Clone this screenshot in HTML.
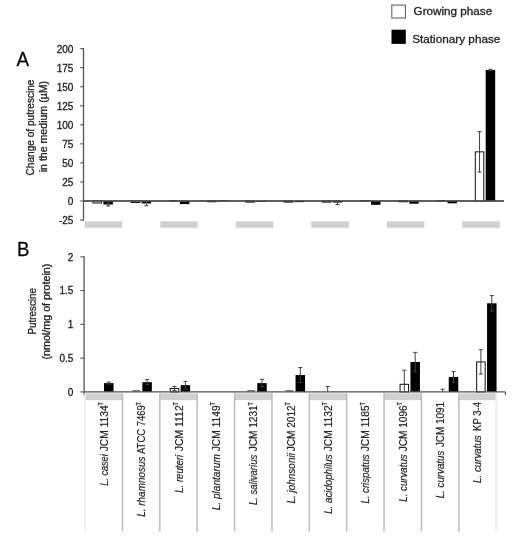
<!DOCTYPE html>
<html><head><meta charset="utf-8"><title>Putrescine chart</title>
<style>html,body{margin:0;padding:0;background:#fff;}body{width:526px;height:550px;overflow:hidden;font-family:"Liberation Sans", sans-serif;}svg{display:block;will-change:transform;}text{stroke:#222;stroke-width:.3px;}text.lb{stroke-width:.18px;}</style>
</head><body>
<svg width="526" height="550" viewBox="0 0 526 550" font-family='"Liberation Sans", sans-serif'><rect x="391.8" y="5.1" width="13.6" height="12.9" fill="#ffffff" stroke="#555555" stroke-width="1"/>
<rect x="391.5" y="29.7" width="14.3" height="14.2" fill="#000000"/>
<text x="413.6" y="14.9" font-size="11.2" textLength="78.6" lengthAdjust="spacingAndGlyphs" fill="#222222">Growing phase</text>
<text x="412.2" y="42.9" font-size="11.2" textLength="88.2" lengthAdjust="spacingAndGlyphs" fill="#222222">Stationary phase</text>
<text x="16.6" y="66.4" font-size="20.4" textLength="12.6" lengthAdjust="spacingAndGlyphs" fill="#000">A</text>
<text x="16.9" y="256.3" font-size="20.4" textLength="12.4" lengthAdjust="spacingAndGlyphs" fill="#000">B</text>
<line x1="83.5" y1="48.1" x2="83.5" y2="220.55" stroke="#555555" stroke-width="1.3"/>
<line x1="80.2" y1="220.05" x2="83.5" y2="220.05" stroke="#555555" stroke-width="1.1"/>
<text x="73.4" y="224.45" font-size="10" text-anchor="end" fill="#222222">-25</text>
<line x1="80.2" y1="201" x2="83.5" y2="201" stroke="#555555" stroke-width="1.1"/>
<text x="73.4" y="205.4" font-size="10" text-anchor="end" fill="#222222">0</text>
<line x1="80.2" y1="181.95" x2="83.5" y2="181.95" stroke="#555555" stroke-width="1.1"/>
<text x="73.4" y="186.35" font-size="10" text-anchor="end" fill="#222222">25</text>
<line x1="80.2" y1="162.9" x2="83.5" y2="162.9" stroke="#555555" stroke-width="1.1"/>
<text x="73.4" y="167.3" font-size="10" text-anchor="end" fill="#222222">50</text>
<line x1="80.2" y1="143.85" x2="83.5" y2="143.85" stroke="#555555" stroke-width="1.1"/>
<text x="73.4" y="148.25" font-size="10" text-anchor="end" fill="#222222">75</text>
<line x1="80.2" y1="124.8" x2="83.5" y2="124.8" stroke="#555555" stroke-width="1.1"/>
<text x="73.4" y="129.2" font-size="10" text-anchor="end" fill="#222222">100</text>
<line x1="80.2" y1="105.75" x2="83.5" y2="105.75" stroke="#555555" stroke-width="1.1"/>
<text x="73.4" y="110.15" font-size="10" text-anchor="end" fill="#222222">125</text>
<line x1="80.2" y1="86.7" x2="83.5" y2="86.7" stroke="#555555" stroke-width="1.1"/>
<text x="73.4" y="91.1" font-size="10" text-anchor="end" fill="#222222">150</text>
<line x1="80.2" y1="67.65" x2="83.5" y2="67.65" stroke="#555555" stroke-width="1.1"/>
<text x="73.4" y="72.05" font-size="10" text-anchor="end" fill="#222222">175</text>
<line x1="80.2" y1="48.6" x2="83.5" y2="48.6" stroke="#555555" stroke-width="1.1"/>
<text x="73.4" y="53" font-size="10" text-anchor="end" fill="#222222">200</text>
<line x1="83.5" y1="201" x2="504" y2="201" stroke="#555555" stroke-width="1.3"/>
<rect x="84.8" y="221.4" width="37.5" height="6.4" fill="#d1d0ce"/>
<rect x="160.3" y="221.4" width="37.5" height="6.4" fill="#d1d0ce"/>
<rect x="235.8" y="221.4" width="37.5" height="6.4" fill="#d1d0ce"/>
<rect x="311.3" y="221.4" width="37.5" height="6.4" fill="#d1d0ce"/>
<rect x="386.8" y="221.4" width="37.5" height="6.4" fill="#d1d0ce"/>
<rect x="462.3" y="221.4" width="37.5" height="6.4" fill="#d1d0ce"/>
<rect x="93.01" y="201" width="8.5" height="1.98" fill="#fff" stroke="#111" stroke-width="1"/>
<rect x="103.41" y="201" width="9.5" height="3.51" fill="#000"/>
<line x1="108.16" y1="202.98" x2="108.16" y2="206.03" stroke="#404040" stroke-width="1"/>
<line x1="106.16" y1="202.98" x2="110.16" y2="202.98" stroke="#404040" stroke-width="1"/>
<line x1="106.16" y1="206.03" x2="110.16" y2="206.03" stroke="#404040" stroke-width="1"/>
<rect x="131.24" y="201" width="8.5" height="1.52" fill="#fff" stroke="#111" stroke-width="1"/>
<rect x="141.64" y="201" width="9.5" height="2.44" fill="#000"/>
<line x1="146.39" y1="201.15" x2="146.39" y2="205.72" stroke="#404040" stroke-width="1"/>
<line x1="144.39" y1="201.15" x2="148.39" y2="201.15" stroke="#404040" stroke-width="1"/>
<line x1="144.39" y1="205.72" x2="148.39" y2="205.72" stroke="#404040" stroke-width="1"/>
<rect x="169.47" y="200.62" width="8.5" height="0.38" fill="#fff" stroke="#111" stroke-width="1"/>
<rect x="179.87" y="201" width="9.5" height="3.05" fill="#000"/>
<rect x="207.7" y="201" width="8.5" height="0.76" fill="#fff" stroke="#111" stroke-width="1"/>
<rect x="218.1" y="200.24" width="9.5" height="0.76" fill="#000"/>
<rect x="245.92" y="201" width="8.5" height="1.14" fill="#fff" stroke="#111" stroke-width="1"/>
<rect x="256.32" y="201" width="9.5" height="0.76" fill="#000"/>
<rect x="284.15" y="201" width="8.5" height="1.14" fill="#fff" stroke="#111" stroke-width="1"/>
<rect x="294.55" y="201" width="9.5" height="1.14" fill="#000"/>
<rect x="322.38" y="201" width="8.5" height="1.14" fill="#fff" stroke="#111" stroke-width="1"/>
<rect x="332.78" y="201" width="9.5" height="1.52" fill="#000"/>
<line x1="337.53" y1="200.54" x2="337.53" y2="204.51" stroke="#404040" stroke-width="1"/>
<line x1="335.53" y1="200.54" x2="339.53" y2="200.54" stroke="#404040" stroke-width="1"/>
<line x1="335.53" y1="204.51" x2="339.53" y2="204.51" stroke="#404040" stroke-width="1"/>
<rect x="360.6" y="200.62" width="8.5" height="0.38" fill="#fff" stroke="#111" stroke-width="1"/>
<rect x="371" y="201" width="9.5" height="3.81" fill="#000"/>
<rect x="398.83" y="201" width="8.5" height="0.76" fill="#fff" stroke="#111" stroke-width="1"/>
<rect x="409.23" y="201" width="9.5" height="2.67" fill="#000"/>
<rect x="437.06" y="200.62" width="8.5" height="0.38" fill="#fff" stroke="#111" stroke-width="1"/>
<rect x="447.46" y="201" width="9.5" height="2.29" fill="#000"/>
<rect x="475.29" y="151.85" width="8.5" height="49.15" fill="#fff" stroke="#111" stroke-width="1"/>
<rect x="485.69" y="69.94" width="9.5" height="131.06" fill="#000"/>
<line x1="479.54" y1="131.66" x2="479.54" y2="172.04" stroke="#404040" stroke-width="1"/>
<line x1="477.54" y1="131.66" x2="481.54" y2="131.66" stroke="#404040" stroke-width="1"/>
<line x1="477.54" y1="172.04" x2="481.54" y2="172.04" stroke="#404040" stroke-width="1"/>
<line x1="490.44" y1="69.25" x2="490.44" y2="70.62" stroke="#404040" stroke-width="1"/>
<line x1="488.44" y1="69.25" x2="492.44" y2="69.25" stroke="#404040" stroke-width="1"/>
<line x1="488.44" y1="70.62" x2="492.44" y2="70.62" stroke="#404040" stroke-width="1"/>
<line x1="83.5" y1="201" x2="504" y2="201" stroke="#555555" stroke-width="1.3"/>
<line x1="84.1" y1="256.32" x2="84.1" y2="395.2" stroke="#555555" stroke-width="1.3"/>
<line x1="80.3" y1="391.9" x2="84.1" y2="391.9" stroke="#555555" stroke-width="1.1"/>
<text x="73.4" y="395.7" font-size="10" text-anchor="end" fill="#222222">0</text>
<line x1="80.3" y1="358.13" x2="84.1" y2="358.13" stroke="#555555" stroke-width="1.1"/>
<text x="73.4" y="361.93" font-size="10" text-anchor="end" fill="#222222">0.5</text>
<line x1="80.3" y1="324.36" x2="84.1" y2="324.36" stroke="#555555" stroke-width="1.1"/>
<text x="73.4" y="328.16" font-size="10" text-anchor="end" fill="#222222">1</text>
<line x1="80.3" y1="290.59" x2="84.1" y2="290.59" stroke="#555555" stroke-width="1.1"/>
<text x="73.4" y="294.39" font-size="10" text-anchor="end" fill="#222222">1.5</text>
<line x1="80.3" y1="256.82" x2="84.1" y2="256.82" stroke="#555555" stroke-width="1.1"/>
<text x="73.4" y="260.62" font-size="10" text-anchor="end" fill="#222222">2</text>
<rect x="85.1" y="393.3" width="37.37" height="6.8" fill="#d1d0ce"/>
<rect x="159.84" y="393.3" width="37.37" height="6.8" fill="#d1d0ce"/>
<rect x="234.58" y="393.3" width="37.37" height="6.8" fill="#d1d0ce"/>
<rect x="309.32" y="393.3" width="37.37" height="6.8" fill="#d1d0ce"/>
<rect x="384.06" y="393.3" width="37.37" height="6.8" fill="#d1d0ce"/>
<rect x="458.8" y="393.3" width="37.37" height="6.8" fill="#d1d0ce"/>
<line x1="85.1" y1="393.3" x2="85.1" y2="531.5" stroke="#ececec" stroke-width="1.5"/>
<line x1="122.47" y1="393.3" x2="122.47" y2="531.5" stroke="#bdbdbd" stroke-width="1.5"/>
<line x1="159.84" y1="393.3" x2="159.84" y2="531.5" stroke="#bdbdbd" stroke-width="1.5"/>
<line x1="197.21" y1="393.3" x2="197.21" y2="531.5" stroke="#bdbdbd" stroke-width="1.5"/>
<line x1="234.58" y1="393.3" x2="234.58" y2="531.5" stroke="#bdbdbd" stroke-width="1.5"/>
<line x1="271.95" y1="393.3" x2="271.95" y2="531.5" stroke="#bdbdbd" stroke-width="1.5"/>
<line x1="309.32" y1="393.3" x2="309.32" y2="531.5" stroke="#bdbdbd" stroke-width="1.5"/>
<line x1="346.69" y1="393.3" x2="346.69" y2="531.5" stroke="#bdbdbd" stroke-width="1.5"/>
<line x1="384.06" y1="393.3" x2="384.06" y2="531.5" stroke="#bdbdbd" stroke-width="1.5"/>
<line x1="421.43" y1="393.3" x2="421.43" y2="531.5" stroke="#bdbdbd" stroke-width="1.5"/>
<line x1="458.8" y1="393.3" x2="458.8" y2="531.5" stroke="#bdbdbd" stroke-width="1.5"/>
<line x1="496.17" y1="393.3" x2="496.17" y2="531.5" stroke="#ececec" stroke-width="1.5"/>
<rect x="104.05" y="383.12" width="9.5" height="8.78" fill="#000"/>
<line x1="108.8" y1="382.11" x2="108.8" y2="384.13" stroke="#404040" stroke-width="1"/>
<line x1="106.8" y1="382.11" x2="110.8" y2="382.11" stroke="#404040" stroke-width="1"/>
<line x1="106.8" y1="384.13" x2="110.8" y2="384.13" stroke="#404040" stroke-width="1"/>
<line x1="132.35" y1="390.9" x2="139.95" y2="390.9" stroke="#333" stroke-width="1.1"/>
<rect x="142.35" y="382.17" width="9.5" height="9.73" fill="#000"/>
<line x1="147.1" y1="379.61" x2="147.1" y2="384.74" stroke="#404040" stroke-width="1"/>
<line x1="145.1" y1="379.61" x2="149.1" y2="379.61" stroke="#404040" stroke-width="1"/>
<line x1="145.1" y1="384.74" x2="149.1" y2="384.74" stroke="#404040" stroke-width="1"/>
<rect x="170.25" y="388.52" width="8.5" height="3.38" fill="#fff" stroke="#111" stroke-width="1"/>
<rect x="180.65" y="385.15" width="9.5" height="6.75" fill="#000"/>
<line x1="174.5" y1="386.5" x2="174.5" y2="390.55" stroke="#404040" stroke-width="1"/>
<line x1="172.5" y1="386.5" x2="176.5" y2="386.5" stroke="#404040" stroke-width="1"/>
<line x1="172.5" y1="390.55" x2="176.5" y2="390.55" stroke="#404040" stroke-width="1"/>
<line x1="185.4" y1="381.36" x2="185.4" y2="388.93" stroke="#404040" stroke-width="1"/>
<line x1="183.4" y1="381.36" x2="187.4" y2="381.36" stroke="#404040" stroke-width="1"/>
<line x1="183.4" y1="388.93" x2="187.4" y2="388.93" stroke="#404040" stroke-width="1"/>
<line x1="247.25" y1="390.9" x2="254.85" y2="390.9" stroke="#333" stroke-width="1.1"/>
<rect x="257.25" y="383.12" width="9.5" height="8.78" fill="#000"/>
<line x1="262" y1="379.34" x2="262" y2="386.9" stroke="#404040" stroke-width="1"/>
<line x1="260" y1="379.34" x2="264" y2="379.34" stroke="#404040" stroke-width="1"/>
<line x1="260" y1="386.9" x2="264" y2="386.9" stroke="#404040" stroke-width="1"/>
<line x1="285.55" y1="390.9" x2="293.15" y2="390.9" stroke="#333" stroke-width="1.1"/>
<rect x="295.55" y="375.01" width="9.5" height="16.88" fill="#000"/>
<line x1="300.3" y1="367.59" x2="300.3" y2="382.44" stroke="#404040" stroke-width="1"/>
<line x1="298.3" y1="367.59" x2="302.3" y2="367.59" stroke="#404040" stroke-width="1"/>
<line x1="298.3" y1="382.44" x2="302.3" y2="382.44" stroke="#404040" stroke-width="1"/>
<line x1="327.7" y1="386.5" x2="327.7" y2="391.9" stroke="#404040" stroke-width="1"/>
<line x1="325.7" y1="386.5" x2="329.7" y2="386.5" stroke="#404040" stroke-width="1"/>
<rect x="400.05" y="384.3" width="8.5" height="7.6" fill="#fff" stroke="#111" stroke-width="1"/>
<rect x="410.45" y="361.98" width="9.5" height="29.92" fill="#000"/>
<line x1="404.3" y1="370.19" x2="404.3" y2="391.9" stroke="#404040" stroke-width="1"/>
<line x1="402.3" y1="370.19" x2="406.3" y2="370.19" stroke="#404040" stroke-width="1"/>
<line x1="415.2" y1="352.39" x2="415.2" y2="371.57" stroke="#404040" stroke-width="1"/>
<line x1="413.2" y1="352.39" x2="417.2" y2="352.39" stroke="#404040" stroke-width="1"/>
<line x1="413.2" y1="371.57" x2="417.2" y2="371.57" stroke="#404040" stroke-width="1"/>
<rect x="448.75" y="376.91" width="9.5" height="14.99" fill="#000"/>
<line x1="442.6" y1="389.2" x2="442.6" y2="391.9" stroke="#404040" stroke-width="1"/>
<line x1="440.6" y1="389.2" x2="444.6" y2="389.2" stroke="#404040" stroke-width="1"/>
<line x1="453.5" y1="371.44" x2="453.5" y2="382.38" stroke="#404040" stroke-width="1"/>
<line x1="451.5" y1="371.44" x2="455.5" y2="371.44" stroke="#404040" stroke-width="1"/>
<line x1="451.5" y1="382.38" x2="455.5" y2="382.38" stroke="#404040" stroke-width="1"/>
<rect x="476.65" y="361.91" width="8.5" height="29.99" fill="#fff" stroke="#111" stroke-width="1"/>
<rect x="487.05" y="303.29" width="9.5" height="88.61" fill="#000"/>
<line x1="480.9" y1="349.76" x2="480.9" y2="374.07" stroke="#404040" stroke-width="1"/>
<line x1="478.9" y1="349.76" x2="482.9" y2="349.76" stroke="#404040" stroke-width="1"/>
<line x1="478.9" y1="374.07" x2="482.9" y2="374.07" stroke="#404040" stroke-width="1"/>
<line x1="491.8" y1="295.59" x2="491.8" y2="310.99" stroke="#404040" stroke-width="1"/>
<line x1="489.8" y1="295.59" x2="493.8" y2="295.59" stroke="#404040" stroke-width="1"/>
<line x1="489.8" y1="310.99" x2="493.8" y2="310.99" stroke="#404040" stroke-width="1"/>
<line x1="84.1" y1="391.9" x2="505.4" y2="391.9" stroke="#555555" stroke-width="1.3"/>
<line x1="505.4" y1="391.9" x2="505.4" y2="395.2" stroke="#555555" stroke-width="1.1"/>
<text class="lb" transform="translate(107.78,485.7) rotate(-90)" x="0" y="0" font-size="10" textLength="31.4" lengthAdjust="spacingAndGlyphs" fill="#222222" font-style="italic">L. casei</text>
<text class="lb" transform="translate(107.78,451.3) rotate(-90)" x="0" y="0" font-size="10" textLength="46" lengthAdjust="spacingAndGlyphs" fill="#222222">JCM 1134</text>
<text class="lb" transform="translate(103.19,405.4) rotate(-90)" x="0" y="0" font-size="6.5" textLength="3.3" lengthAdjust="spacingAndGlyphs" fill="#222222">T</text>
<text class="lb" transform="translate(145.15,516.8) rotate(-90)" x="0" y="0" font-size="10" textLength="60.3" lengthAdjust="spacingAndGlyphs" fill="#222222" font-style="italic">L. rhamnosus</text>
<text class="lb" transform="translate(145.15,454) rotate(-90)" x="0" y="0" font-size="10" textLength="48.7" lengthAdjust="spacingAndGlyphs" fill="#222222">ATCC 7469</text>
<text class="lb" transform="translate(140.55,405.4) rotate(-90)" x="0" y="0" font-size="6.5" textLength="3.3" lengthAdjust="spacingAndGlyphs" fill="#222222">T</text>
<text class="lb" transform="translate(182.52,492.8) rotate(-90)" x="0" y="0" font-size="10" textLength="38" lengthAdjust="spacingAndGlyphs" fill="#222222" font-style="italic">L. reuteri</text>
<text class="lb" transform="translate(182.52,451.3) rotate(-90)" x="0" y="0" font-size="10" textLength="46" lengthAdjust="spacingAndGlyphs" fill="#222222">JCM 1112</text>
<text class="lb" transform="translate(177.92,405.4) rotate(-90)" x="0" y="0" font-size="6.5" textLength="3.3" lengthAdjust="spacingAndGlyphs" fill="#222222">T</text>
<text class="lb" transform="translate(219.89,510.3) rotate(-90)" x="0" y="0" font-size="10" textLength="56.1" lengthAdjust="spacingAndGlyphs" fill="#222222" font-style="italic">L. plantarum</text>
<text class="lb" transform="translate(219.89,451.3) rotate(-90)" x="0" y="0" font-size="10" textLength="46" lengthAdjust="spacingAndGlyphs" fill="#222222">JCM 1149</text>
<text class="lb" transform="translate(215.29,405.4) rotate(-90)" x="0" y="0" font-size="6.5" textLength="3.3" lengthAdjust="spacingAndGlyphs" fill="#222222">T</text>
<text class="lb" transform="translate(257.26,505.1) rotate(-90)" x="0" y="0" font-size="10" textLength="50.3" lengthAdjust="spacingAndGlyphs" fill="#222222" font-style="italic">L. salivarius</text>
<text class="lb" transform="translate(257.26,451.3) rotate(-90)" x="0" y="0" font-size="10" textLength="46" lengthAdjust="spacingAndGlyphs" fill="#222222">JCM 1231</text>
<text class="lb" transform="translate(252.66,405.4) rotate(-90)" x="0" y="0" font-size="6.5" textLength="3.3" lengthAdjust="spacingAndGlyphs" fill="#222222">T</text>
<text class="lb" transform="translate(294.63,503.6) rotate(-90)" x="0" y="0" font-size="10" textLength="50.5" lengthAdjust="spacingAndGlyphs" fill="#222222" font-style="italic">L. johnsonii</text>
<text class="lb" transform="translate(294.63,451.3) rotate(-90)" x="0" y="0" font-size="10" textLength="46" lengthAdjust="spacingAndGlyphs" fill="#222222">JCM 2012</text>
<text class="lb" transform="translate(290.03,405.4) rotate(-90)" x="0" y="0" font-size="6.5" textLength="3.3" lengthAdjust="spacingAndGlyphs" fill="#222222">T</text>
<text class="lb" transform="translate(332,513.8) rotate(-90)" x="0" y="0" font-size="10" textLength="59.4" lengthAdjust="spacingAndGlyphs" fill="#222222" font-style="italic">L. acidophilus</text>
<text class="lb" transform="translate(332,451.3) rotate(-90)" x="0" y="0" font-size="10" textLength="46" lengthAdjust="spacingAndGlyphs" fill="#222222">JCM 1132</text>
<text class="lb" transform="translate(327.4,405.4) rotate(-90)" x="0" y="0" font-size="6.5" textLength="3.3" lengthAdjust="spacingAndGlyphs" fill="#222222">T</text>
<text class="lb" transform="translate(369.38,503.6) rotate(-90)" x="0" y="0" font-size="10" textLength="49.2" lengthAdjust="spacingAndGlyphs" fill="#222222" font-style="italic">L. crispatus</text>
<text class="lb" transform="translate(369.38,451.3) rotate(-90)" x="0" y="0" font-size="10" textLength="46" lengthAdjust="spacingAndGlyphs" fill="#222222">JCM 1185</text>
<text class="lb" transform="translate(364.77,405.4) rotate(-90)" x="0" y="0" font-size="6.5" textLength="3.3" lengthAdjust="spacingAndGlyphs" fill="#222222">T</text>
<text class="lb" transform="translate(406.75,501.7) rotate(-90)" x="0" y="0" font-size="10" textLength="47.3" lengthAdjust="spacingAndGlyphs" fill="#222222" font-style="italic">L. curvatus</text>
<text class="lb" transform="translate(406.75,451.3) rotate(-90)" x="0" y="0" font-size="10" textLength="46" lengthAdjust="spacingAndGlyphs" fill="#222222">JCM 1096</text>
<text class="lb" transform="translate(402.14,405.4) rotate(-90)" x="0" y="0" font-size="6.5" textLength="3.3" lengthAdjust="spacingAndGlyphs" fill="#222222">T</text>
<text class="lb" transform="translate(444.12,498.3) rotate(-90)" x="0" y="0" font-size="10" textLength="47.6" lengthAdjust="spacingAndGlyphs" fill="#222222" font-style="italic">L. curvatus</text>
<text class="lb" transform="translate(444.12,447.1) rotate(-90)" x="0" y="0" font-size="10" textLength="45.2" lengthAdjust="spacingAndGlyphs" fill="#222222">JCM 1091</text>
<text class="lb" transform="translate(481.49,482.9) rotate(-90)" x="0" y="0" font-size="10" textLength="47.6" lengthAdjust="spacingAndGlyphs" fill="#222222" font-style="italic">L. curvatus</text>
<text class="lb" transform="translate(481.49,430.9) rotate(-90)" x="0" y="0" font-size="10" textLength="29" lengthAdjust="spacingAndGlyphs" fill="#222222">KP 3-4</text>
<text transform="translate(33.7,175.5) rotate(-90)" x="0" y="0" font-size="10" textLength="96" lengthAdjust="spacingAndGlyphs" fill="#222222">Change of putrescine</text>
<text transform="translate(46.8,172.3) rotate(-90)" x="0" y="0" font-size="10" textLength="91.4" lengthAdjust="spacingAndGlyphs" fill="#222222">in the medium (µM)</text>
<text transform="translate(36.2,334.5) rotate(-90)" x="0" y="0" font-size="10" textLength="46.5" lengthAdjust="spacingAndGlyphs" fill="#222222">Putrescine</text>
<text transform="translate(50,359.5) rotate(-90)" x="0" y="0" font-size="10" textLength="95.9" lengthAdjust="spacingAndGlyphs" fill="#222222">(nmol/mg of protein)</text></svg>
</body></html>
